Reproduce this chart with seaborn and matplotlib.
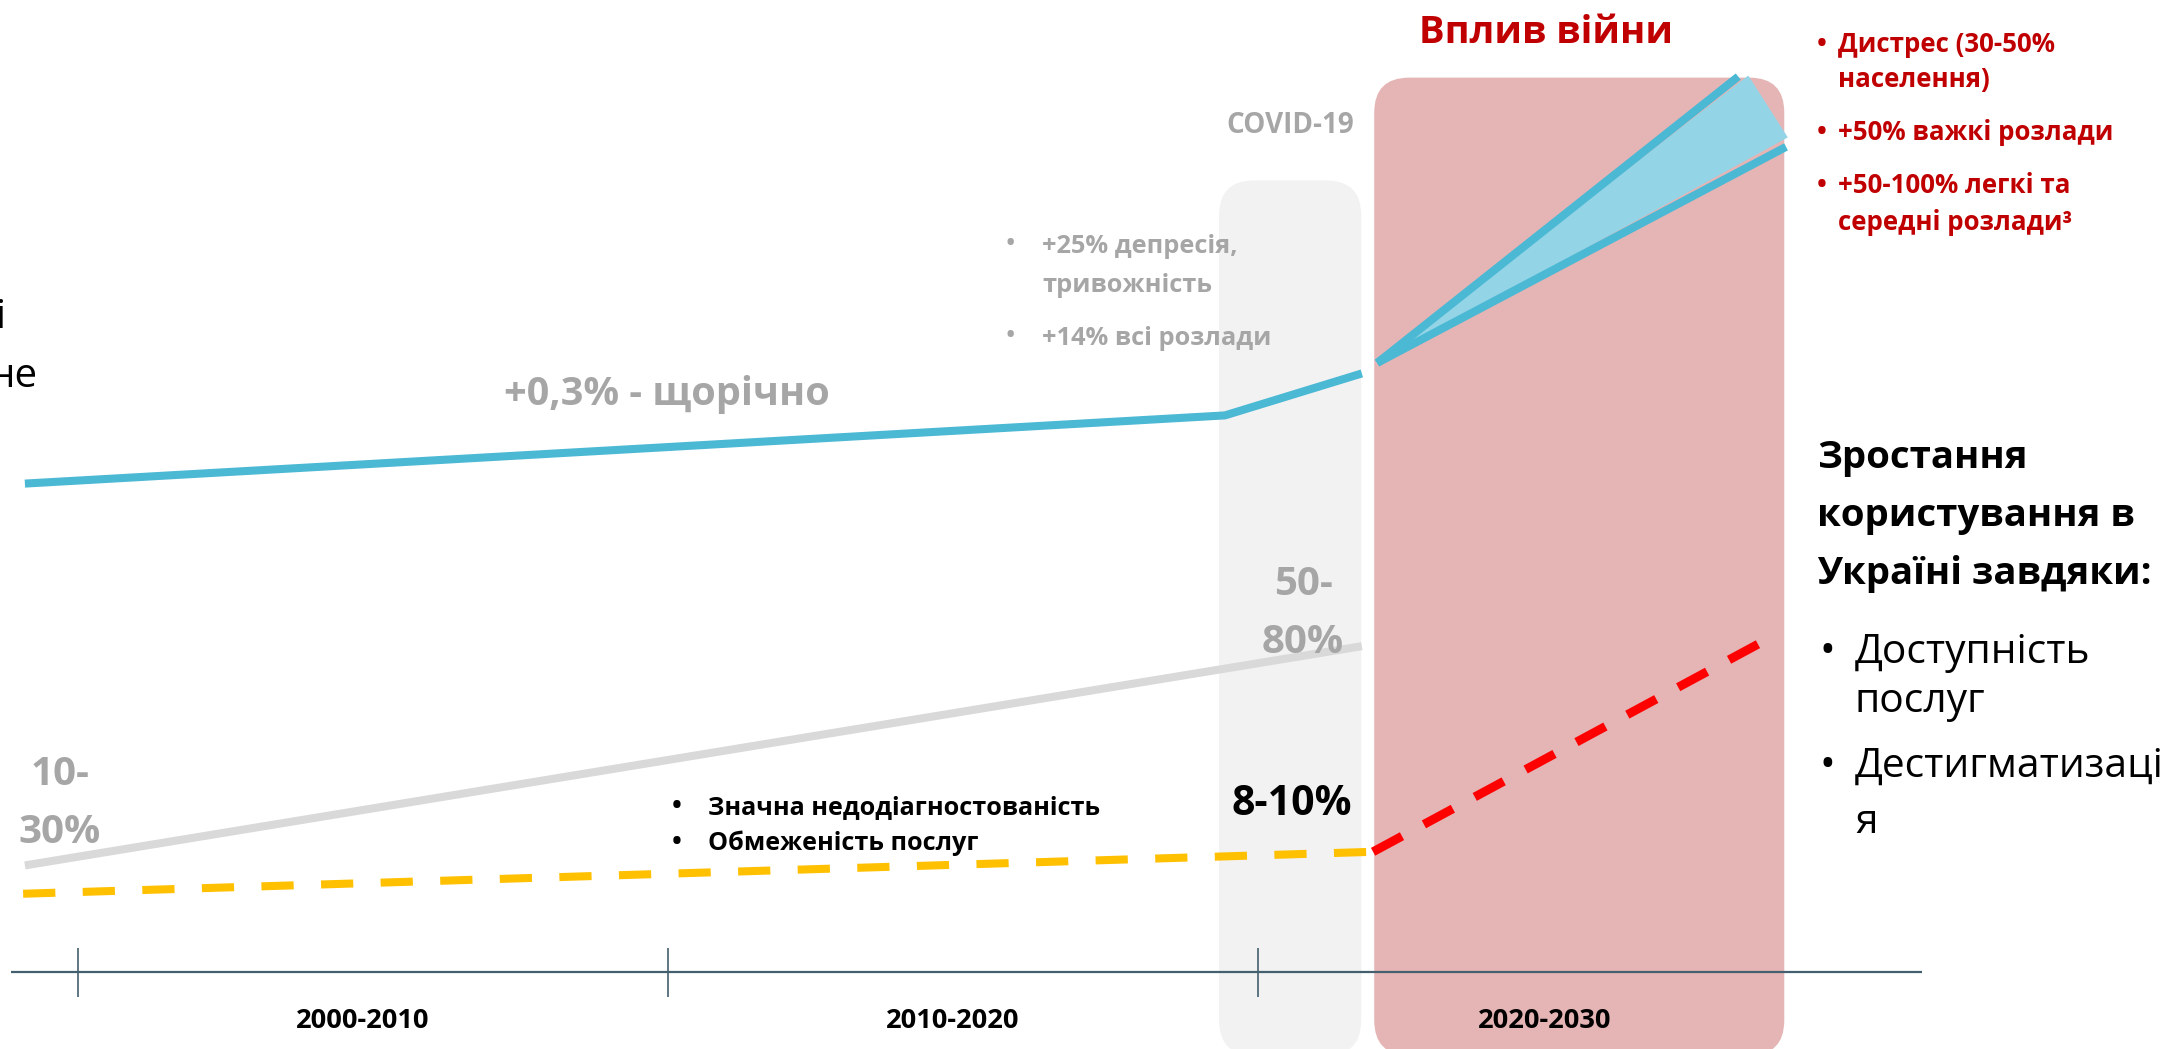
import numpy as np
import pandas as pd
import matplotlib
matplotlib.use("Agg")
import matplotlib.pyplot as plt
import seaborn as sns
from matplotlib.patches import FancyBboxPatch

# ---------------- data (years vs. relative level, 0-100) ----------------
base_years = [1999.1, 2019.44, 2021.76]          # prevalence trend (blue)
base_level = [53.9, 60.4, 64.4]
war_high_years = [2022.02, 2028.14]               # war scenario upper
war_high_level = [65.4, 92.7]
war_low_years = [2022.02, 2028.95]                # war scenario lower
war_low_level = [65.4, 86.0]
fan_years = [2022.02, 2028.31, 2028.98]           # shaded range
fan_level = [65.4, 92.8, 86.9]
undiag_years = [1999.1, 2021.76]                  # undiagnosed share (grey)
undiag_level = [17.5, 38.4]
use_years = [1999.07, 2021.95]                    # service use (yellow)
use_level = [14.8, 18.8]
war_use_years = [2021.95, 2028.61]                # service use growth (red)
war_use_level = [18.8, 39.0]

tick_years = [2000, 2010, 2020]
decade_labels = ["2000-2010", "2010-2020", "2020-2030"]
decade_label_years = [2004.83, 2014.83, 2024.86]
covid_band = (2019.34, 2021.75, 82.8)
war_band = (2021.97, 2028.92, 92.6)

# ---------------- figure ----------------
W, H = 2172, 1049
sns.set_theme(style="white")
plt.rcParams['font.family'] = ['Open Sans', 'DejaVu Sans']

fig = plt.figure(figsize=(W / 100, H / 100), dpi=100)
ax = fig.add_axes([0, 0, 1, 1])
x0 = 1998.678
px_per_year = 59.0
ax.set_xlim(x0, x0 + W / px_per_year)
ax.set_ylim(0, 100)
ax.axis("off")

# aspect for rounded corners (px per year / px per level)
asp = px_per_year / (H / 100)
r = 35 / px_per_year
for (xa, xb, top), col in [(covid_band, "#F2F2F2"), (war_band, "#E5B5B5")]:
    p = FancyBboxPatch((xa, -0.6), xb - xa, top + 0.6,
                       boxstyle=f"round,pad=0,rounding_size={r}",
                       mutation_aspect=asp, fc=col, ec="none", zorder=0)
    ax.add_patch(p)

# axis line and ticks
axis_c = "#44606E"
ax.hlines(7.34, x0 + 11 / px_per_year, x0 + 1922 / px_per_year, color=axis_c, lw=1.6, zorder=1)
ax.vlines(tick_years, 4.96, 9.63, color=axis_c, lw=1.2, zorder=1)

blue = "#4BB8D4"
lw = 5.8
ax.fill(fan_years, fan_level, color="#93D4E6", lw=0, zorder=2)

def line(xs, ys, color, lw=lw, ls="-", z=3):
    df = pd.DataFrame({"x": xs, "y": ys})
    sns.lineplot(data=df, x="x", y="y", ax=ax, color=color, linewidth=lw,
                 linestyle=ls, estimator=None, sort=False, legend=False,
                 solid_capstyle="butt", dash_capstyle="butt", zorder=z)

line(undiag_years, undiag_level, "#D9D9D9")
line(base_years, base_level, blue)
line(war_high_years, war_high_level, blue)
line(war_low_years, war_low_level, blue)
line(use_years, use_level, "#FFC000", ls=(0, (4, 3.4)))
line(war_use_years, war_use_level, "#FF0000", lw=6.4, ls=(0, (3.7, 2.8)))
ax.set_xlim(x0, x0 + W / px_per_year)
ax.set_ylim(0, 100)

# ---------------- text ----------------
def T(px, py, s, **kw):
    kw.setdefault("va", "baseline")
    fig.text(px / W, 1 - py / H, s, **kw)

grey = "#A6A6A6"
dred = "#C00000"

# left cut-off fragments
T(6, 328, "і", ha="right", fontsize=29, color="black")
T(38, 387, "не", ha="right", fontsize=29, color="black")

T(667, 405, "+0,3% - щорічно", ha="center", fontsize=28.5, fontweight="bold", color=grey)
T(1290, 133, "COVID-19", ha="center", fontsize=20, fontweight="bold", color=grey)
T(1546, 43, "Вплив війни", ha="center", fontsize=27.5, fontweight="bold", color=dred)

# red bullets
for bx, by, s in [(1822, 52, "Дистрес (30-50%"), (None, 87, "населення)"),
                  (1822, 140, "+50% важкі розлади"), (1822, 193, "+50-100% легкі та"),
                  (None, 230, "середні розлади³")]:
    if bx is not None:
        T(bx, by, "•", ha="center", fontsize=19, fontweight="bold", color=dred)
    T(1838, by, s, fontsize=18.6, fontweight="bold", color=dred)

# grey bullets
for bx, by, s in [(1010, 253, "+25% депресія,"), (None, 292, "тривожність"),
                  (1010, 345, "+14% всі розлади")]:
    if bx is not None:
        T(bx, by, "•", ha="center", fontsize=22, color=grey)
    T(1042, by, s, fontsize=18.3, fontweight="bold", color=grey)

T(1303, 595, "50-", ha="center", fontsize=29, fontweight="bold", color=grey)
T(1303, 653, "80%", ha="center", fontsize=29, fontweight="bold", color=grey)
T(60, 785, "10-", ha="center", fontsize=29, fontweight="bold", color=grey)
T(60, 843, "30%", ha="center", fontsize=29, fontweight="bold", color=grey)
T(1292, 815, "8-10%", ha="center", fontsize=29.5, fontweight="bold", color="black")

for by, s in [(814, "Значна недодіагностованість"), (850, "Обмеженість послуг")]:
    T(677, by, "•", ha="center", fontsize=19, fontweight="bold", color="black")
    T(708, by, s, fontsize=18.2, fontweight="bold", color="black")

for xl, s in zip(decade_label_years, decade_labels):
    ax.text(xl, (H - 1028) / (H / 100), s, ha="center", va="baseline",
            fontsize=19.6, fontweight="bold", color="black")

# right black block
for by, s in [(468, "Зростання"), (526, "користування в"), (584, "Україні завдяки:")]:
    T(1817, by, s, fontsize=27.6, fontweight="bold", color="black")
T(1827, 663, "•", ha="center", fontsize=30, color="black")
T(1855, 663, "Доступність", fontsize=29.3, color="black")
T(1855, 712, "послуг", fontsize=29.3, color="black")
T(1827, 777, "•", ha="center", fontsize=30, color="black")
T(1855, 777, "Дестигматизаці", fontsize=29.3, color="black")
T(1855, 833, "я", fontsize=29.3, color="black")

fig.savefig("out.png", dpi=100)
